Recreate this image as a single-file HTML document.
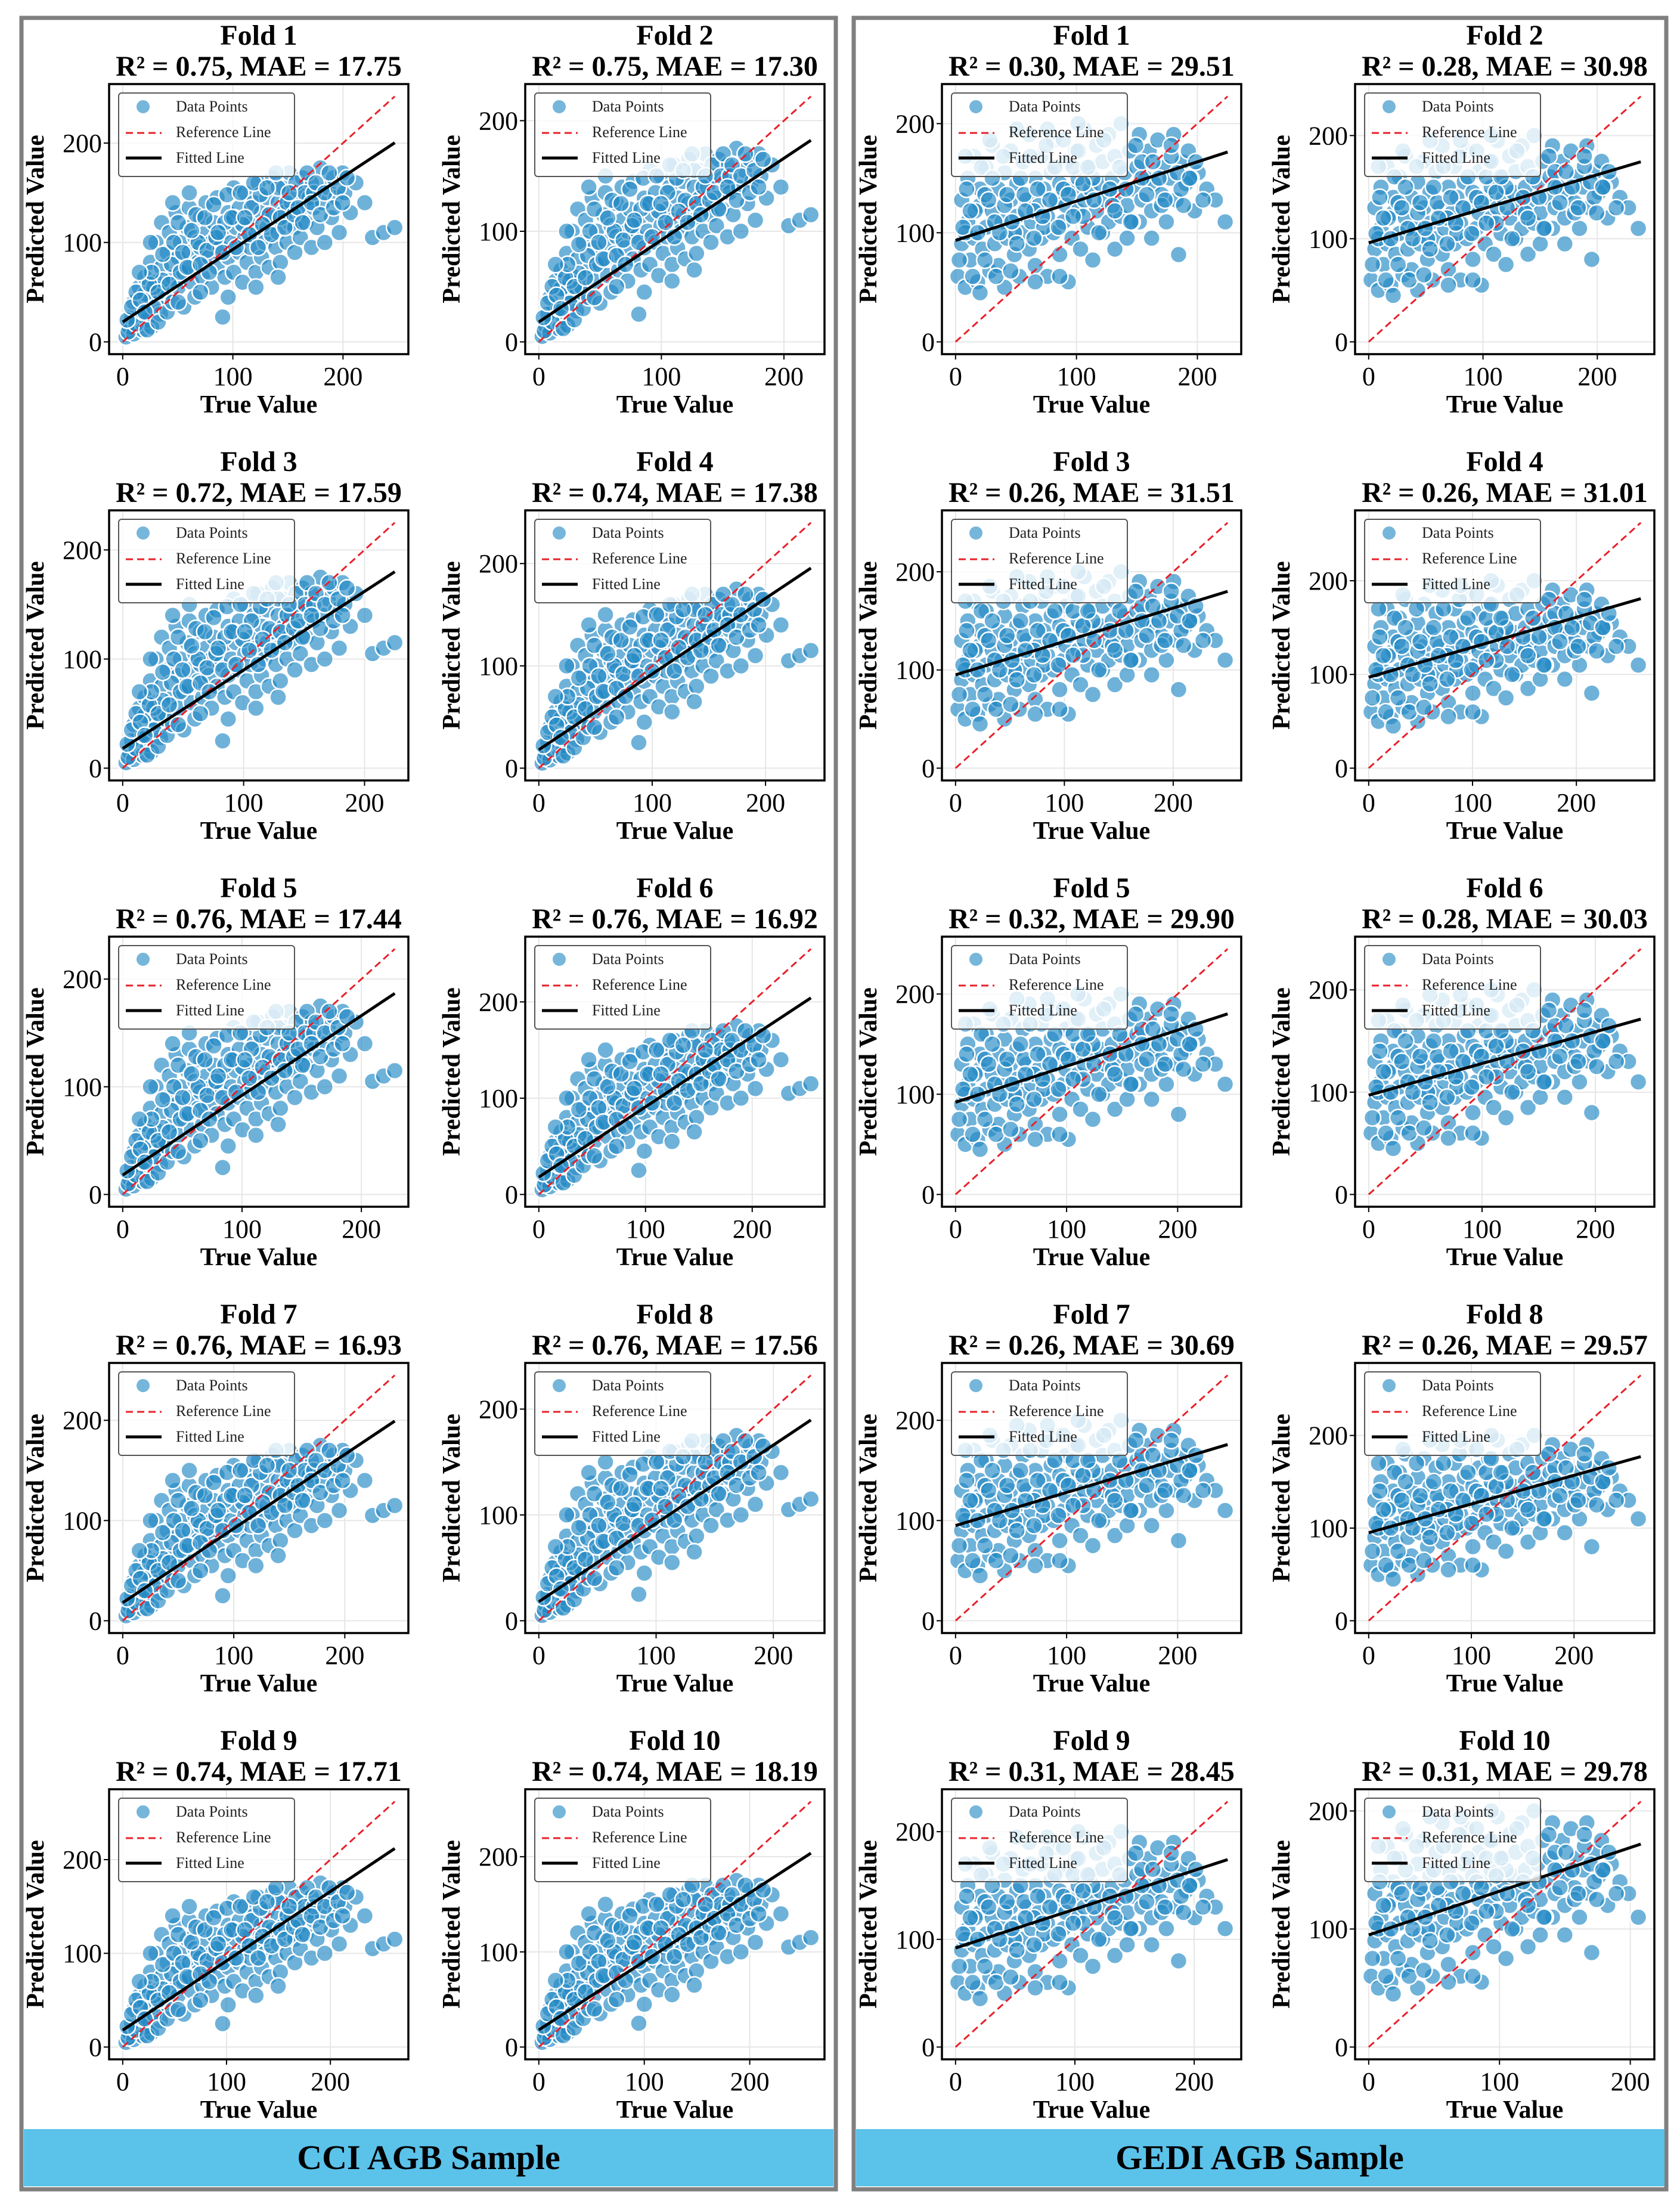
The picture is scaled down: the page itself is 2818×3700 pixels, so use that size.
<!DOCTYPE html>
<html><head><meta charset="utf-8">
<style>
html,body{margin:0;padding:0;background:#fff;}
svg{display:block;}
svg text{font-family:"Liberation Serif","Times New Roman",serif;}
</style></head>
<body>
<svg id="fig" width="2818" height="3700" viewBox="0 0 2818 3700" xmlns="http://www.w3.org/2000/svg" font-family="Liberation Serif, serif">
<rect x="0" y="0" width="2818" height="3700" fill="#fff"/>
<rect x="36" y="30" width="1366" height="3642" fill="none" stroke="#7f7f7f" stroke-width="7"/>
<rect x="1432" y="30" width="1363" height="3642" fill="none" stroke="#7f7f7f" stroke-width="7"/>
<rect x="40" y="3571" width="1358" height="96" fill="#5bc2ea"/>
<rect x="1436" y="3571" width="1356" height="96" fill="#5bc2ea"/>
<text x="719" y="3638" font-size="58" font-weight="bold" text-anchor="middle">CCI AGB Sample</text>
<text x="2113" y="3638" font-size="58" font-weight="bold" text-anchor="middle">GEDI AGB Sample</text>
<g id="plots"></g>
</svg>
<script>
const cciR2 = [0.75,0.75,0.72,0.74,0.76,0.76,0.76,0.76,0.74,0.74];
const cciMAE = [17.75,17.30,17.59,17.38,17.44,16.92,16.93,17.56,17.71,18.19];
const gediR2 = [0.30,0.28,0.26,0.26,0.32,0.28,0.26,0.26,0.31,0.31];
const gediMAE = [29.51,30.98,31.51,31.01,29.90,30.03,30.69,29.57,28.45,29.78];
const cciXMax = [247,222,225,240,228,255,245,232,262,258];
const gediXMax = [225,238,250,262,245,240,245,265,228,208];
const cciIntercept = [20,18,18,18,18,18,18,18,18,18];
const cciSlope = [0.73,0.74,0.72,0.74,0.74,0.73,0.74,0.74,0.74,0.72];
const gediIntercept = [93,96,95,97,92,97,95,95,92,95];
const gediSlope = [0.36,0.33,0.34,0.32,0.36,0.31,0.33,0.31,0.36,0.37];
const xTicks = [0,100,200];
const yTicks = [0,100,200];
const cciPoints = [[3,5],[6,15],[10,8],[14,28],[18,12],[22,22],[26,15],[30,40],[34,28],[38,45],
[5,10],[8,25],[10,40],[12,18],[15,55],[18,30],[20,65],[22,12],[25,45],[25,80],[28,35],[30,100],[30,60],[32,20],[35,75],[35,120],[38,50],[40,90],[40,30],[42,110],[45,65],[45,40],[48,130],[50,85],[50,55],[52,100],[55,70],[55,35],[58,115],[60,90],[60,135],[62,60],[65,105],[65,45],[68,80],[70,125],[70,95],[72,65],[75,110],[75,140],[78,85],[80,55],[80,100],[82,120],[85,75],[85,145],[88,95],[90,110],[90,25],[92,65],[95,130],[95,85],[98,100],[100,155],[100,70],[102,115],[105,90],[105,135],[108,60],[110,105],[110,150],[112,80],[115,120],[115,95],[118,140],[120,70],[120,110],[122,160],[125,85],[125,130],[128,100],[130,145],[130,115],[132,75],[135,125],[135,165],[138,95],[140,140],[140,110],[142,80],[145,130],[145,155],[148,100],[150,120],[150,170],[152,140],[155,90],[155,115],[158,150],[160,130],[160,105],[162,165],[165,120],[168,145],[170,95],[170,160],[172,135],[175,115],[178,175],[180,140],[182,100],[185,155],[188,125],[190,165],[192,145],[195,110],[198,170],[200,150],[205,130],[210,160],[218,140],[225,105],[235,110],[245,115],
[20,48],[28,55],[36,62],[44,78],[52,70],[60,75],[68,100],[76,92],[84,105],[92,120],[100,125],[108,118],[116,135],[124,148],[132,128],[140,155],[148,140],[156,160],[164,150],[172,150],
[4,22],[8,35],[12,50],[16,42],[20,30],[24,58],[26,70],[32,50],[36,88],[42,58],[46,100],[50,120],[54,90],[58,75],[62,112],[66,128],[70,78],[74,125],[78,70],[82,138],[86,110],[90,90],[94,148],[98,125],[102,95],[106,150],[110,125],[114,108],[118,160],[122,95],[126,118],[130,155],[134,108],[138,170],[142,125],[146,115],[150,150],[154,128],[158,135],[162,120],[166,170],[170,140],[174,160],[178,128],[182,150],[186,170],[190,135],[194,155],[198,140],[202,165],[15,70],[45,140],[60,150],[25,100],[50,40],[70,50],[95,45],[120,55],[140,65]];
const gediPoints = [[2,60],[5,90],[5,130],[8,50],[10,110],[10,150],[12,75],[15,95],[15,170],[18,55],[20,125],[20,140],[22,85],[25,105],[25,160],[28,65],[30,120],[30,180],[32,90],[35,140],[35,70],[38,110],[40,155],[40,50],[42,95],[45,130],[45,175],[48,80],[50,115],[50,145],[52,60],[55,100],[55,165],[58,130],[60,85],[60,190],[62,110],[65,150],[65,70],[68,125],[70,95],[70,170],[72,140],[75,60],[75,115],[78,155],[80,100],[80,185],[82,130],[85,80],[85,145],[88,110],[90,165],[90,125],[92,55],[95,140],[95,95],[98,175],[100,120],[100,150],[102,85],[105,195],[105,130],[108,105],[110,160],[110,140],[112,75],[115,120],[115,180],[118,145],[120,100],[120,165],[122,130],[125,190],[125,110],[128,150],[130,85],[130,170],[132,135],[135,115],[135,200],[138,155],[140,125],[140,95],[142,175],[145,140],[148,160],[150,110],[150,190],[152,130],[155,150],[158,175],[160,120],[160,95],[162,145],[165,185],[168,135],[170,160],[172,110],[175,150],[178,190],[180,130],[182,80],[185,165],[188,145],[190,175],[195,120],[198,155],[205,140],[212,130],[220,110],
[8,100],[16,120],[24,135],[32,110],[40,125],[48,100],[56,135],[64,120],[72,105],[88,140],[96,160],[104,115],[112,150],[128,125],[144,110],[152,165],[168,125],[176,170],[184,140],[192,150],
[3,75],[6,105],[9,140],[12,120],[14,60],[18,100],[21,160],[24,75],[27,130],[30,150],[33,60],[36,100],[39,170],[42,135],[46,110],[50,90],[53,150],[57,120],[61,170],[64,95],[67,140],[71,115],[74,180],[77,130],[81,160],[84,105],[88,185],[92,135],[96,115],[100,175],[104,145],[108,160],[113,130],[117,100],[121,185],[126,140],[130,120],[134,160],[139,140],[143,110],[147,180],[152,150],[156,135],[161,165],[166,150],[171,130],[176,180],[181,155],[186,125],[191,150],[196,165],[202,130],[8,170],[28,185],[50,195],[75,195],[100,200],[20,45],[45,65],[65,55],[85,60]];

const NS = "http://www.w3.org/2000/svg";
const colLeft = [183,881,1580,2273];
const boxW = 502, boxH = 453, row0 = 141, rowStep = 715;
const plots = document.getElementById('plots');
function mk(tag, attrs, parent){
  const e = document.createElementNS(NS, tag);
  for (const k in attrs) e.setAttribute(k, attrs[k]);
  parent.appendChild(e);
  return e;
}
function drawPanel(kind, i){
  const isCci = kind === 'cci';
  const col = (isCci ? 0 : 2) + (i % 2);
  const row = Math.floor(i / 2);
  const L = colLeft[col], T = row0 + rowStep*row;
  const xm = isCci ? cciXMax[i] : gediXMax[i];
  const ym = xm;
  const xmin = -0.05*xm, xmax = 1.05*xm, ymin = -0.05*ym, ymax = 1.05*ym;
  const sx = v => L + (v - xmin)/(xmax - xmin)*boxW;
  const sy = v => T + boxH - (v - ymin)/(ymax - ymin)*boxH;
  const g = mk('g', {}, plots);
  
  
  const cx = L + boxW/2;
  const t1 = mk('text', {x:cx, y:T-66, 'font-size':48, 'font-weight':'bold', 'text-anchor':'middle'}, g);
  t1.textContent = 'Fold ' + (i+1);
  
  
  const r2 = isCci ? cciR2[i] : gediR2[i];
  const mae = isCci ? cciMAE[i] : gediMAE[i];
  const t2 = mk('text', {x:cx, y:T-14, 'font-size':48, 'font-weight':'bold', 'text-anchor':'middle'}, g);
  t2.textContent = 'R\u00B2 = ' + r2.toFixed(2) + ', MAE = ' + mae.toFixed(2);
  
  
  const clipId = 'clip-' + kind + i;
  const cp = mk('clipPath', {id:clipId}, g);
  mk('rect', {x:L, y:T, width:boxW, height:boxH}, cp);
  xTicks.forEach(v => {
    if (v > xmax) return;
    const gl = mk('line', {x1:sx(v), x2:sx(v), y1:T, y2:T+boxH, stroke:'#e6e6e6', 'stroke-width':2}, g);
    
    
    mk('line', {x1:sx(v), x2:sx(v), y1:T+boxH, y2:T+boxH+9, stroke:'#000', 'stroke-width':2}, g);
    const tl = mk('text', {x:sx(v), y:T+boxH+52, 'font-size':44, 'text-anchor':'middle'}, g);
    tl.textContent = v;
    
    
  });
  yTicks.forEach(v => {
    if (v > ymax) return;
    const gl = mk('line', {x1:L, x2:L+boxW, y1:sy(v), y2:sy(v), stroke:'#e6e6e6', 'stroke-width':2}, g);
    
    
    mk('line', {x1:L-9, x2:L, y1:sy(v), y2:sy(v), stroke:'#000', 'stroke-width':2}, g);
    const tl = mk('text', {x:L-12, y:sy(v)+15, 'font-size':44, 'text-anchor':'end'}, g);
    tl.textContent = v;
    
    
  });
  const inner = mk('g', {'clip-path':'url(#' + clipId + ')'}, g);
  const pts = isCci ? cciPoints : gediPoints;
  const scale = xm / (isCci ? 245 : 222);
  pts.forEach(p => {
    const c = mk('circle', {cx:sx(p[0]*scale), cy:sy(p[1]), r:14, fill:'#2289c4', 'fill-opacity':0.65, stroke:'#ffffff', 'stroke-width':2.5}, inner);
    
    
  });
  const rl = mk('line', {x1:sx(0), y1:sy(0), x2:sx(xm), y2:sy(xm), stroke:'#e8202a', 'stroke-width':3, 'stroke-dasharray':'12,7'}, inner);
  
  
  const b = isCci ? cciIntercept[i] : gediIntercept[i];
  const s = isCci ? cciSlope[i] : gediSlope[i];
  const fl = mk('line', {x1:sx(0), y1:sy(b), x2:sx(xm), y2:sy(b + s*xm), stroke:'#000', 'stroke-width':5}, inner);
  
  
  const frame = mk('rect', {x:L, y:T, width:boxW, height:boxH, fill:'none', stroke:'#000', 'stroke-width':3.5}, g);
  
  
  const lg = mk('g', {}, g);
  
  
  mk('rect', {x:L+16, y:T+15, width:295, height:140, rx:5, fill:'#fff', 'fill-opacity':0.8, stroke:'#555', 'stroke-width':2}, lg);
  const e1 = mk('circle', {cx:L+57, cy:T+38, r:12, fill:'#2289c4', 'fill-opacity':0.62, stroke:'#fff', 'stroke-width':2}, lg);
  
  
  mk('line', {x1:L+28, x2:L+88, y1:T+82, y2:T+82, stroke:'#e8202a', 'stroke-width':3, 'stroke-dasharray':'12,7'}, lg);
  mk('line', {x1:L+28, x2:L+88, y1:T+124, y2:T+124, stroke:'#000', 'stroke-width':5}, lg);
  [['Data Points',T+46],['Reference Line',T+89],['Fitted Line',T+132]].forEach(a => {
    const tx = mk('text', {x:L+112, y:a[1], 'font-size':26, fill:'#222'}, lg);
    tx.textContent = a[0];
    
    
  });
  const xl = mk('text', {x:cx, y:T+boxH+98, 'font-size':42, 'font-weight':'bold', 'text-anchor':'middle'}, g);
  xl.textContent = 'True Value';
  
  
  const yx = L - 110, yy = T + boxH/2;
  const yl = mk('text', {x:yx, y:yy, 'font-size':42, 'font-weight':'bold', 'text-anchor':'middle', transform:'rotate(-90 ' + yx + ' ' + yy + ')'}, g);
  yl.textContent = 'Predicted Value';
  
  
}
for (let i = 0; i < 10; i++){ drawPanel('cci', i); drawPanel('gedi', i); }
</script>
</body></html>
